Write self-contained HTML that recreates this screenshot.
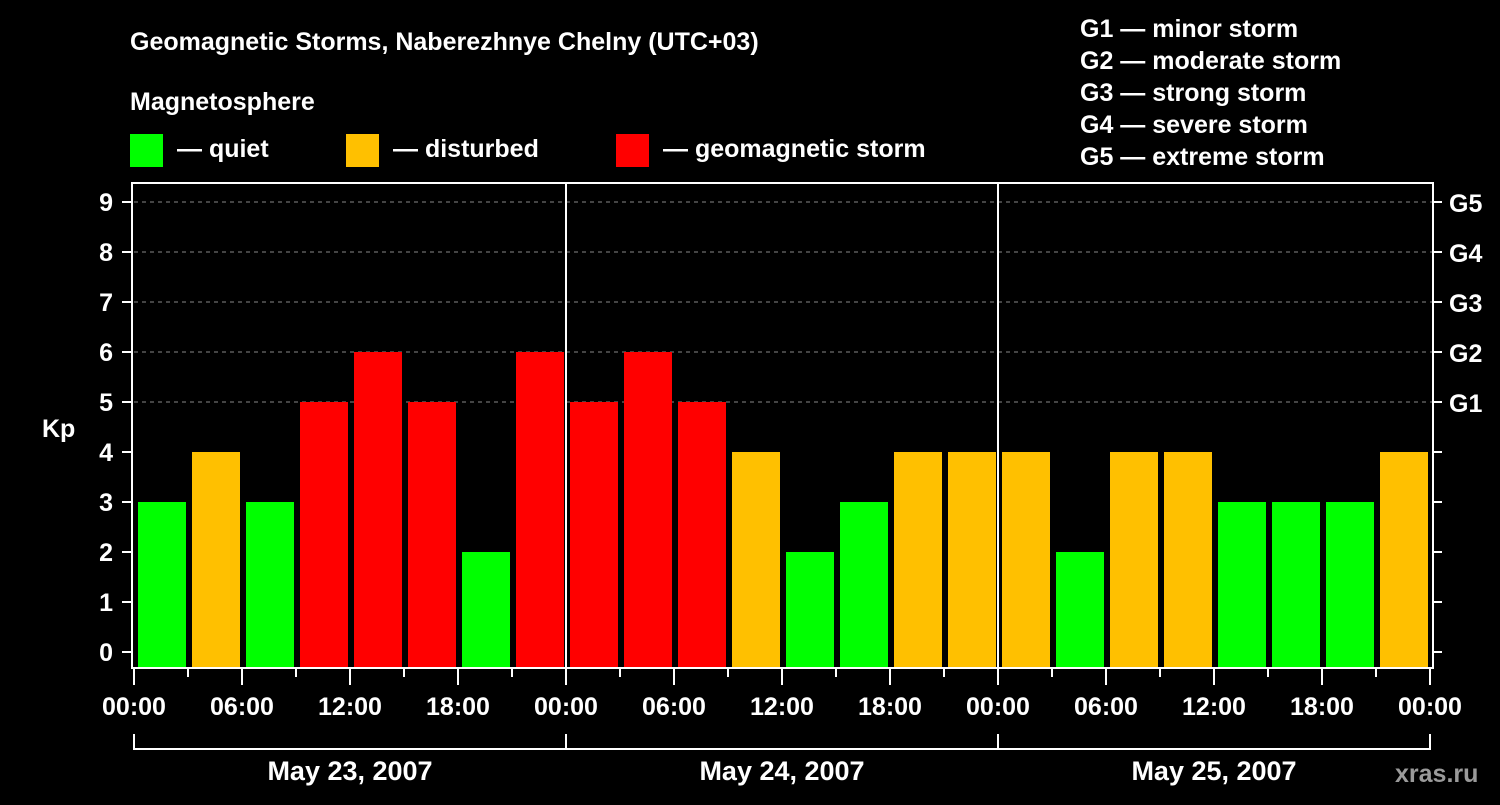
<!DOCTYPE html>
<html><head><meta charset="utf-8"><style>
body{margin:0;background:#000;width:1500px;height:800px;overflow:hidden}
svg text{font-family:"Liberation Sans",sans-serif;font-weight:bold;fill:#fff}
</style></head><body>
<svg id="c" width="1500" height="800">
<text x="130" y="50" font-size="25">Geomagnetic Storms, Naberezhnye Chelny (UTC+03)</text>
<text x="130" y="110" font-size="25">Magnetosphere</text>
<g><rect x="130" y="134" width="33" height="33" fill="#00ff00"/><text x="177" y="157" font-size="25">— quiet</text></g>
<g><rect x="346" y="134" width="33" height="33" fill="#ffc000"/><text x="393" y="157" font-size="25">— disturbed</text></g>
<g><rect x="616" y="134" width="33" height="33" fill="#ff0000"/><text x="663" y="157" font-size="25">— geomagnetic storm</text></g>
<g font-size="25">
<text x="1080" y="37">G1 — minor storm</text><text x="1080" y="69">G2 — moderate storm</text><text x="1080" y="101">G3 — strong storm</text><text x="1080" y="133">G4 — severe storm</text><text x="1080" y="165">G5 — extreme storm</text></g>
<text x="1395" y="782" font-size="25" fill="#888" style="fill:#9a9a9a">xras.ru</text>
<text x="42" y="437" font-size="25">Kp</text>
<g id="g"></g>
</svg>
<script>
const kpValues=[3,4,3,5,6,5,2,6, 5,6,5,4,2,3,4,4, 4,2,4,4,3,3,3,4];
const dayLabels=["May 23, 2007","May 24, 2007","May 25, 2007"];
const xTickLabels=["00:00","06:00","12:00","18:00"];
const yTicks=[0,1,2,3,4,5,6,7,8,9];
const gLabels=[[5,"G1"],[6,"G2"],[7,"G3"],[8,"G4"],[9,"G5"]];
const X0=134,DAY=432,SLOT=54,Y0=652,UNIT=50,BOT=668,TOP=183,RIGHT=1433;
const xs=i=>X0+i*SLOT, ys=k=>Y0-k*UNIT;
const g=document.getElementById('g'),NS='http://www.w3.org/2000/svg';
function el(t,a,txt){const e=document.createElementNS(NS,t);for(const k in a)e.setAttribute(k,a[k]);if(txt!==undefined)e.textContent=txt;g.appendChild(e);return e;}
yTicks.forEach(k=>{if(k>=5){const l=el('line',{x1:X0,x2:RIGHT,y1:ys(k),y2:ys(k),stroke:'#888','stroke-dasharray':'4,4'});}});
kpValues.forEach((v,i)=>{const c=v>=5?'#ff0000':v==4?'#ffc000':'#00ff00';
const r=el('rect',{x:xs(i)+4,y:ys(v),width:48,height:BOT-ys(v),fill:c});

});
const f=el('rect',{x:132,y:TOP,width:RIGHT-132,height:BOT-TOP,fill:'none',stroke:'#fff','stroke-width':2});

[1,2].forEach(d=>{const l=el('line',{x1:X0+d*DAY,x2:X0+d*DAY,y1:TOP,y2:BOT,stroke:'#fff','stroke-width':2});});
yTicks.forEach(k=>{el('line',{x1:122,x2:132,y1:ys(k),y2:ys(k),stroke:'#fff','stroke-width':2});el('line',{x1:RIGHT,x2:RIGHT+9,y1:ys(k),y2:ys(k),stroke:'#fff','stroke-width':2});
const t=el('text',{x:113,y:ys(k)+9,'font-size':25,'text-anchor':'end'},k);});
gLabels.forEach(([k,s])=>{const t=el('text',{x:1449,y:ys(k)+10,'font-size':25},s);});
for(let h=0;h<=24;h++){const x=X0+h*SLOT;const maj=h%2==0;el('line',{x1:x,x2:x,y1:BOT,y2:maj?685:677,stroke:'#fff','stroke-width':2});
if(maj){const t=el('text',{x:x,y:715,'font-size':25,'text-anchor':'middle'},xTickLabels[(h/2)%4]);}}
el('line',{x1:X0,x2:X0+3*DAY,y1:749,y2:749,stroke:'#fff','stroke-width':2});
for(let d=0;d<=3;d++)el('line',{x1:X0+d*DAY,x2:X0+d*DAY,y1:734,y2:750,stroke:'#fff','stroke-width':2});
dayLabels.forEach((s,d)=>{const t=el('text',{x:X0+d*DAY+DAY/2,y:780,'font-size':27,'text-anchor':'middle'},s);});
</script>
</body></html>
